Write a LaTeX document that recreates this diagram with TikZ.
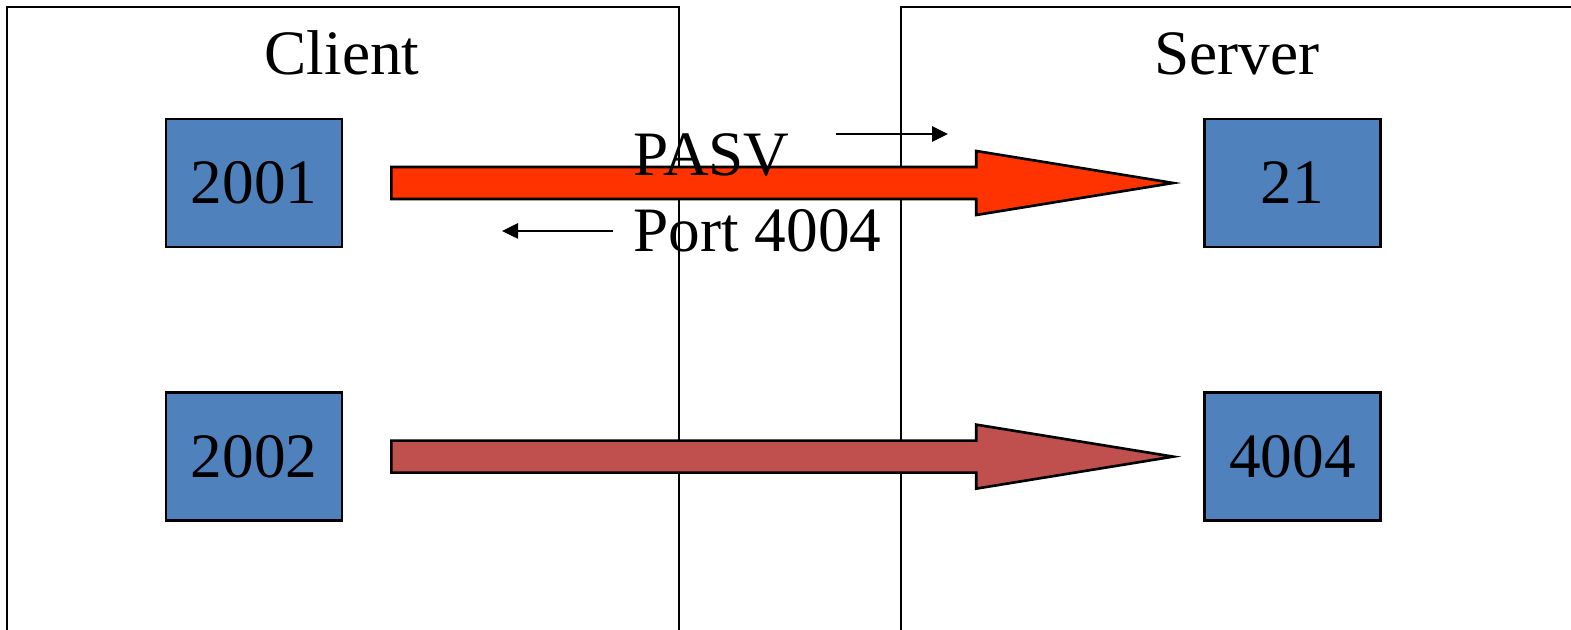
\documentclass[tikz,border=0pt]{standalone}
\usepackage{fontspec}
\setmainfont{Liberation Serif}
\usetikzlibrary{positioning,calc,arrows.meta}
\definecolor{portblue}{HTML}{4F81BD}
\definecolor{ctrlred}{HTML}{FF3300}
\definecolor{datared}{HTML}{C0504D}

\begin{document}
\begin{tikzpicture}[font=\fontsize{18}{21}\selectfont, >={Triangle[length=1.6mm, width=1.5mm]},
  port/.style={draw, line width=0.75pt, fill=portblue, minimum width=1.76cm, minimum height=1.28cm, inner sep=0pt},
  flow/.style={draw, line width=0.75pt}]
  \useasboundingbox (0,0) rectangle (15.71,-6.30);
  % client and server frames
  \draw[line width=0.75pt] (0.07,-6.40) |- (6.79,-0.07) -- (6.79,-6.40);
  \draw[line width=0.75pt] (9.01,-6.40) |- (15.80,-0.07);
  \node[anchor=base] (client) at (3.42,-0.75) {Client};
  \node[anchor=base] (server) at (12.37,-0.75) {Server};
  % ports
  \node[port] (c2001) at (2.54,-1.83) {\raisebox{-0.3mm}{2001}};
  \node[port, below=1.43cm of c2001] (c2002) {\raisebox{-0.3mm}{2002}};
  \node[port] (s21) at (12.925,-1.83) {\raisebox{-0.3mm}{21}};
  \node[port, below=1.43cm of s21] (s4004) {\raisebox{-0.3mm}{4004}};
  % connections
  \draw[flow, fill=ctrlred] let \p1=($(c2001.east)+(0.48,0)$), \p2=($(s21.west)+(-0.30,0)$) in
    (\x1,\y1+1.6mm) -- (\x2-19.7mm,\y1+1.6mm) -- (\x2-19.7mm,\y1+3.2mm) -- (\x2,\y2)
    -- (\x2-19.7mm,\y1-3.2mm) -- (\x2-19.7mm,\y1-1.6mm) -- (\x1,\y1-1.6mm) -- cycle;
  \draw[flow, fill=datared] let \p1=($(c2002.east)+(0.48,0)$), \p2=($(s4004.west)+(-0.30,0)$) in
    (\x1,\y1+1.6mm) -- (\x2-19.7mm,\y1+1.6mm) -- (\x2-19.7mm,\y1+3.2mm) -- (\x2,\y2)
    -- (\x2-19.7mm,\y1-3.2mm) -- (\x2-19.7mm,\y1-1.6mm) -- (\x1,\y1-1.6mm) -- cycle;
  % control messages
  \node[anchor=base west, inner sep=0pt] (pasv) at (6.33,-1.76) {PASV};
  \node[anchor=base west, inner sep=0pt] (portmsg) at (6.33,-2.52) {Port 4004};
  \coordinate (pasvtail) at (8.36,-1.34);
  \coordinate (pasvhead) at (9.48,-1.34);
  \coordinate (porttail) at (6.13,-2.31);
  \coordinate (porthead) at (5.02,-2.31);
  \draw[->, line width=0.75pt] (pasvtail) -- (pasvhead);
  \draw[->, line width=0.75pt] (porttail) -- (porthead);
\end{tikzpicture}
\end{document}
